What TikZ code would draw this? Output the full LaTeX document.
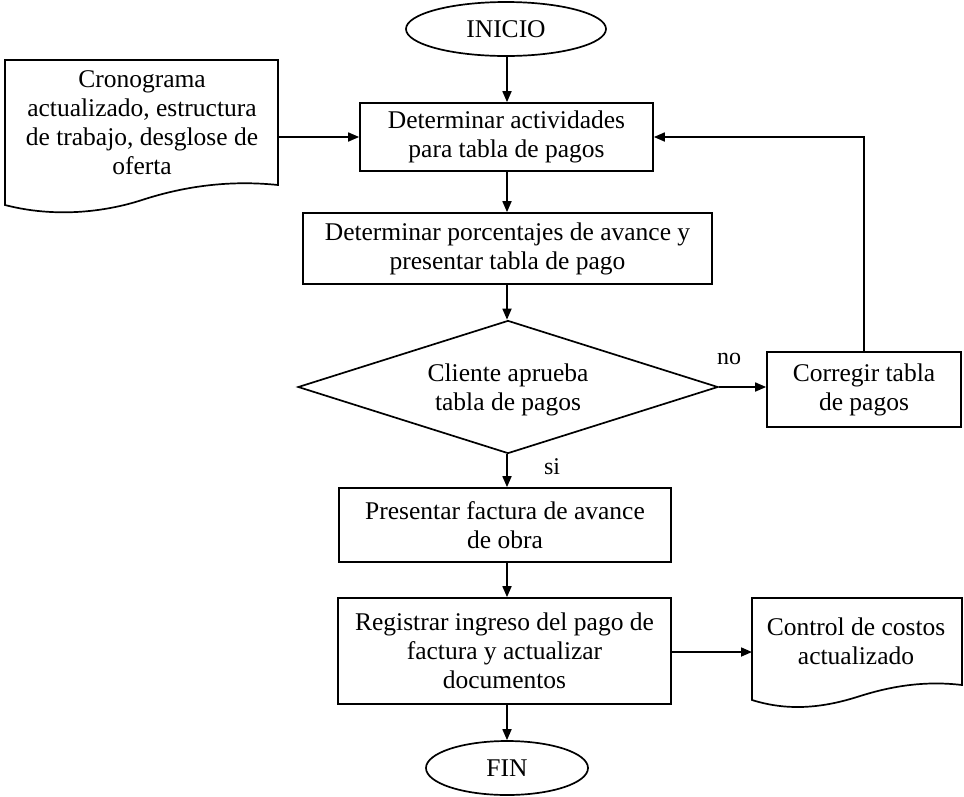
\documentclass[tikz,border=0pt]{standalone}
\usepackage{fontspec}
\setmainfont{Liberation Serif}
\usetikzlibrary{arrows.meta,shapes.geometric}
\begin{document}
\begin{tikzpicture}[x=1pt,y=-1pt,
  line width=1.7pt,
  every node/.style={font=\fontsize{25.5}{29}\selectfont, align=center, inner sep=0pt},
  procbox/.style={draw, rectangle},
  term/.style={draw, ellipse},
  arr/.style={-{Triangle[length=11pt,width=9pt]}},
  lbl/.style={font=\fontsize{24}{26}\selectfont}]
\useasboundingbox (0,0) rectangle (964,796);
% terminals
\node[term, minimum width=200pt, minimum height=54pt] (ini) at (506,29) {INICIO};
\node[term, minimum width=162pt, minimum height=54pt] (fin) at (507,768) {FIN};
% process boxes
\node[procbox, minimum width=293pt, minimum height=68pt] (b1) at (506.5,137) {Determinar actividades\\para tabla de pagos};
\node[procbox, minimum width=409pt, minimum height=71pt] (b2) at (507.5,248.5) {Determinar porcentajes de avance y\\presentar tabla de pago};
\node[draw, diamond, aspect=3.16, minimum width=420pt, minimum height=133pt, inner sep=0pt] (dec) at (508,387) {};
\node at (508,390) {Cliente aprueba\\tabla de pagos};
\node[procbox, minimum width=194pt, minimum height=75pt] (cor) at (864,389.5) {Corregir tabla\\de pagos};
\node[procbox, minimum width=332pt, minimum height=74pt] (b3) at (505,525) {Presentar factura de avance\\de obra};
\node[procbox, minimum width=333pt, minimum height=106pt] (b4) at (504.5,651) {Registrar ingreso del pago de\\factura y actualizar\\documentos};
% documents
\draw (5,60) -- (278,60) -- (278,185)
  .. controls (230,180) and (185,186) .. (142,200)
  .. controls (105,212) and (55,218) .. (5,205) -- cycle;
\node (d1) at (142,123) {Cronograma\\actualizado, estructura\\de trabajo, desglose de\\oferta};
\coordinate (d1e) at (278,137);
\draw (752,598) -- (962,598) -- (962,685)
  .. controls (920,680) and (885,688) .. (857,697)
  .. controls (825,707) and (790,712) .. (752,700) -- cycle;
\node (d2) at (856,641) {Control de costos\\actualizado};
\coordinate (d2w) at (752,652);
% connectors
\draw[arr] (ini.south -| 507,0) -- (b1.north -| 507,0);
\draw[arr] (d1e) -- (d1e -| b1.west);
\draw[arr] (b1.south -| 507,0) -- (b2.north -| 507,0);
\draw[arr] (b2.south -| 507,0) -- (dec.north -| 507,0);
\draw[arr] (dec.east) -- (cor.west |- dec.east);
\draw[arr] (cor.north) -- (cor.north |- d1e) -- (b1.east |- d1e);
\draw[arr] (dec.south -| 507,0) -- (b3.north -| 507,0);
\draw[arr] (b3.south -| 507,0) -- (b4.north -| 507,0);
\draw[arr] (b4.east |- d2w) -- (d2w);
\draw[arr] (b4.south -| 507,0) -- (fin.north -| 507,0);
% labels
\node[lbl] (no) at (729,359) {no};
\node[lbl] (si) at (552,467) {si};
\end{tikzpicture}
\end{document}
